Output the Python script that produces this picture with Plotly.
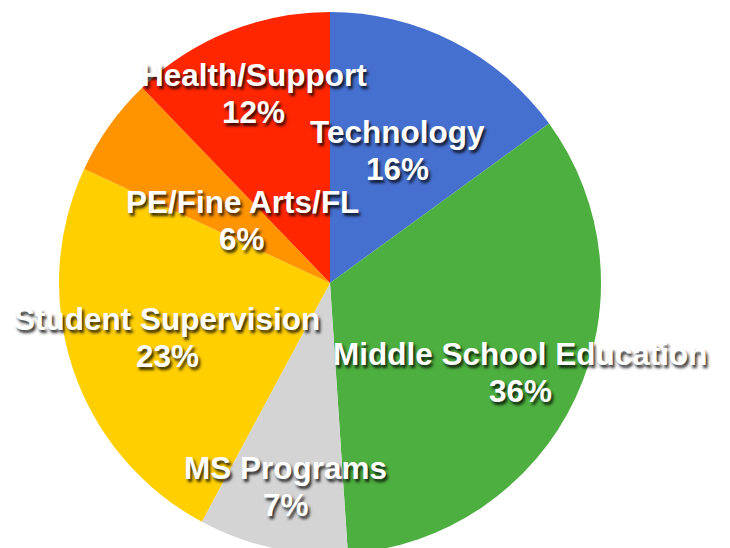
import math
import plotly.graph_objects as go

# ---- data ----
categories = ["Technology", "Middle School Education", "MS Programs",
              "Student Supervision", "PE/Fine Arts/FL", "Health/Support"]
slice_values = [15.0, 34.0, 8.9, 24.1, 5.9, 12.2]
pct_labels = ["16%", "36%", "7%", "23%", "6%", "12%"]

# ---- style ----
colors = ["#4670D0", "#4DAF3F", "#D4D4D4", "#FFCF00", "#FF9300", "#FF2600"]
label_radius_frac = [0.55, 0.775, 0.767, 0.633, 0.397, 0.755]

W, H = 730, 566
cx_px, cy_px, R_px = 330, 283, 271

fig = go.Figure(go.Pie(
    labels=categories,
    values=slice_values,
    sort=False,
    direction="clockwise",
    rotation=0,
    marker=dict(colors=colors, line=dict(width=0)),
    textinfo="none",
    hoverinfo="label+percent",
    showlegend=False,
    domain=dict(x=[(cx_px - R_px) / W, (cx_px + R_px) / W],
                y=[1 - (cy_px + R_px) / H, 1 - (cy_px - R_px) / H]),
))

font = dict(family="Liberation Sans, Arial, Helvetica, sans-serif", size=31.5,
            color="white", weight="bold",
            shadow="2px 3px 3px rgba(0,0,0,0.8)")

total = sum(slice_values)
cum = 0.0
annotations = []
for name, v, pct, f in zip(categories, slice_values, pct_labels, label_radius_frac):
    mid = (cum + v / 2) / total * 2 * math.pi
    cum += v
    px = cx_px + f * R_px * math.sin(mid)
    py = cy_px - f * R_px * math.cos(mid)
    xp = px / W
    yp = 1 - py / H
    annotations.append(dict(x=xp, y=yp, xref="paper", yref="paper", text=name,
                            showarrow=False, font=font, yshift=18.5,
                            xanchor="center", yanchor="middle"))
    annotations.append(dict(x=xp, y=yp, xref="paper", yref="paper", text=pct,
                            showarrow=False, font=font, yshift=-18.5,
                            xanchor="center", yanchor="middle"))

fig.update_layout(
    width=W, height=H,
    margin=dict(l=0, r=0, t=0, b=0),
    paper_bgcolor="white",
    plot_bgcolor="white",
    annotations=annotations,
)

fig.write_html(
    "out.html",
    config={"displayModeBar": False},
    post_script="document.body.style.margin='0';document.body.style.overflow='hidden';"
                "document.documentElement.style.overflow='hidden';",
)
